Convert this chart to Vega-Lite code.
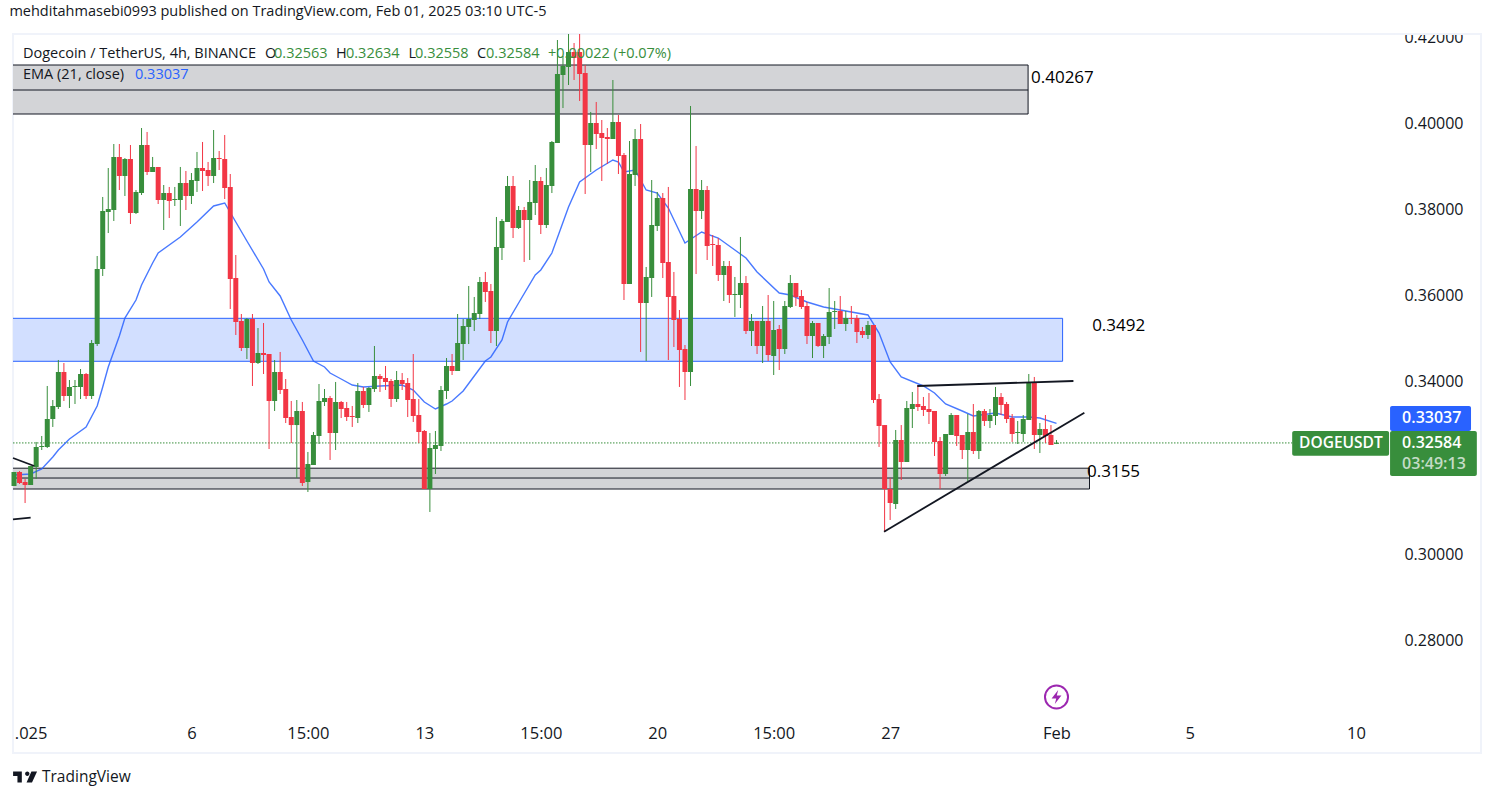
{
"$schema":"https://vega.github.io/schema/vega-lite/v6.json",
"width":1468,"height":719,
"autosize":{"type":"none"},
"padding":{"left":13,"top":34,"right":13,"bottom":45},
"background":"#ffffff",
"title":{"text":"mehditahmasebi0993 published on TradingView.com, Feb 01, 2025 03:10 UTC-5","anchor":"start","font":"Open Sans","fontSize":14.5,"fontWeight":"normal","color":"#131722","baseline":"bottom","offset":-13},
"config":{"view":{"stroke":"#f0f3fa","strokeWidth":2},"font":"Open Sans"},
"datasets":{
"candles":[
{"t":"2024-12-31T19:00","o":0.31585,"h":0.31910,"l":0.31585,"c":0.31910},
{"t":"2024-12-31T23:00","o":0.31910,"h":0.31933,"l":0.31631,"c":0.31654},
{"t":"2025-01-01T03:00","o":0.31678,"h":0.31747,"l":0.31190,"c":0.31608},
{"t":"2025-01-01T07:00","o":0.31608,"h":0.32049,"l":0.31608,"c":0.32049},
{"t":"2025-01-01T11:00","o":0.32026,"h":0.32606,"l":0.31747,"c":0.32490},
{"t":"2025-01-01T15:00","o":0.32490,"h":0.32745,"l":0.32420,"c":0.32513},
{"t":"2025-01-01T19:00","o":0.32490,"h":0.33905,"l":0.32466,"c":0.33139},
{"t":"2025-01-01T23:00","o":0.33139,"h":0.33580,"l":0.32954,"c":0.33441},
{"t":"2025-01-02T03:00","o":0.33418,"h":0.34508,"l":0.33371,"c":0.34230},
{"t":"2025-01-02T07:00","o":0.34230,"h":0.34438,"l":0.33557,"c":0.33673},
{"t":"2025-01-02T11:00","o":0.33673,"h":0.34044,"l":0.33394,"c":0.33882},
{"t":"2025-01-02T15:00","o":0.33882,"h":0.34044,"l":0.33487,"c":0.33905},
{"t":"2025-01-02T19:00","o":0.33882,"h":0.34299,"l":0.33603,"c":0.34183},
{"t":"2025-01-02T23:00","o":0.34183,"h":0.34206,"l":0.33603,"c":0.33673},
{"t":"2025-01-03T03:00","o":0.33673,"h":0.34972,"l":0.33603,"c":0.34902},
{"t":"2025-01-03T07:00","o":0.34879,"h":0.36921,"l":0.34833,"c":0.36619},
{"t":"2025-01-03T11:00","o":0.36619,"h":0.38290,"l":0.36457,"c":0.37965},
{"t":"2025-01-03T15:00","o":0.37942,"h":0.38962,"l":0.37454,"c":0.38011},
{"t":"2025-01-03T19:00","o":0.37988,"h":0.39519,"l":0.37733,"c":0.39218},
{"t":"2025-01-03T23:00","o":0.39218,"h":0.39519,"l":0.38452,"c":0.38777},
{"t":"2025-01-04T03:00","o":0.38777,"h":0.39194,"l":0.38313,"c":0.39171},
{"t":"2025-01-04T07:00","o":0.39171,"h":0.39496,"l":0.37663,"c":0.37918},
{"t":"2025-01-04T11:00","o":0.37918,"h":0.38452,"l":0.37895,"c":0.38406},
{"t":"2025-01-04T15:00","o":0.38382,"h":0.39890,"l":0.38336,"c":0.39496},
{"t":"2025-01-04T19:00","o":0.39496,"h":0.39798,"l":0.38800,"c":0.38870},
{"t":"2025-01-04T23:00","o":0.38870,"h":0.39218,"l":0.38870,"c":0.38986},
{"t":"2025-01-05T03:00","o":0.38986,"h":0.38986,"l":0.38127,"c":0.38220},
{"t":"2025-01-05T07:00","o":0.38220,"h":0.38568,"l":0.37524,"c":0.38382},
{"t":"2025-01-05T11:00","o":0.38382,"h":0.38522,"l":0.37802,"c":0.38197},
{"t":"2025-01-05T15:00","o":0.38220,"h":0.38522,"l":0.38081,"c":0.38243},
{"t":"2025-01-05T19:00","o":0.38220,"h":0.38986,"l":0.37617,"c":0.38614},
{"t":"2025-01-05T23:00","o":0.38614,"h":0.38893,"l":0.37988,"c":0.38313},
{"t":"2025-01-06T03:00","o":0.38313,"h":0.38846,"l":0.38127,"c":0.38684},
{"t":"2025-01-06T07:00","o":0.38661,"h":0.39334,"l":0.38406,"c":0.38962},
{"t":"2025-01-06T11:00","o":0.38962,"h":0.39566,"l":0.38429,"c":0.38893},
{"t":"2025-01-06T15:00","o":0.38916,"h":0.39102,"l":0.38545,"c":0.38777},
{"t":"2025-01-06T19:00","o":0.38777,"h":0.39844,"l":0.38614,"c":0.39194},
{"t":"2025-01-06T23:00","o":0.39194,"h":0.39357,"l":0.38916,"c":0.39171},
{"t":"2025-01-07T03:00","o":0.39171,"h":0.39728,"l":0.38243,"c":0.38498},
{"t":"2025-01-07T07:00","o":0.38522,"h":0.38823,"l":0.35691,"c":0.36387},
{"t":"2025-01-07T11:00","o":0.36410,"h":0.36944,"l":0.35088,"c":0.35390},
{"t":"2025-01-07T15:00","o":0.35413,"h":0.35575,"l":0.34717,"c":0.34786},
{"t":"2025-01-07T19:00","o":0.34786,"h":0.35482,"l":0.34531,"c":0.35459},
{"t":"2025-01-07T23:00","o":0.35459,"h":0.35575,"l":0.33905,"c":0.34438},
{"t":"2025-01-08T03:00","o":0.34438,"h":0.35250,"l":0.34415,"c":0.34670},
{"t":"2025-01-08T07:00","o":0.34670,"h":0.35366,"l":0.34183,"c":0.34624},
{"t":"2025-01-08T11:00","o":0.34647,"h":0.34647,"l":0.32443,"c":0.33557},
{"t":"2025-01-08T15:00","o":0.33557,"h":0.34508,"l":0.33325,"c":0.34230},
{"t":"2025-01-08T19:00","o":0.34230,"h":0.34694,"l":0.33719,"c":0.33812},
{"t":"2025-01-08T23:00","o":0.33835,"h":0.34067,"l":0.33046,"c":0.33162},
{"t":"2025-01-09T03:00","o":0.33185,"h":0.33557,"l":0.32582,"c":0.32999},
{"t":"2025-01-09T07:00","o":0.32999,"h":0.33580,"l":0.31770,"c":0.33325},
{"t":"2025-01-09T11:00","o":0.33325,"h":0.33534,"l":0.31585,"c":0.31654},
{"t":"2025-01-09T15:00","o":0.31678,"h":0.32374,"l":0.31446,"c":0.32095},
{"t":"2025-01-09T19:00","o":0.32072,"h":0.32838,"l":0.32072,"c":0.32768},
{"t":"2025-01-09T23:00","o":0.32745,"h":0.33951,"l":0.32559,"c":0.33557},
{"t":"2025-01-10T03:00","o":0.33534,"h":0.33835,"l":0.33441,"c":0.33626},
{"t":"2025-01-10T07:00","o":0.33626,"h":0.33673,"l":0.32188,"c":0.32814},
{"t":"2025-01-10T11:00","o":0.32814,"h":0.33998,"l":0.32420,"c":0.33534},
{"t":"2025-01-10T15:00","o":0.33534,"h":0.33557,"l":0.33162,"c":0.33371},
{"t":"2025-01-10T19:00","o":0.33394,"h":0.33534,"l":0.33093,"c":0.33185},
{"t":"2025-01-10T23:00","o":0.33209,"h":0.33441,"l":0.32954,"c":0.33185},
{"t":"2025-01-11T03:00","o":0.33162,"h":0.33974,"l":0.33046,"c":0.33789},
{"t":"2025-01-11T07:00","o":0.33789,"h":0.33882,"l":0.33394,"c":0.33464},
{"t":"2025-01-11T11:00","o":0.33464,"h":0.33882,"l":0.33302,"c":0.33858},
{"t":"2025-01-11T15:00","o":0.33835,"h":0.34833,"l":0.33766,"c":0.34137},
{"t":"2025-01-11T19:00","o":0.34137,"h":0.34183,"l":0.33766,"c":0.34067},
{"t":"2025-01-11T23:00","o":0.34090,"h":0.34369,"l":0.33812,"c":0.33998},
{"t":"2025-01-12T03:00","o":0.34021,"h":0.34067,"l":0.33418,"c":0.33603},
{"t":"2025-01-12T07:00","o":0.33603,"h":0.34253,"l":0.33534,"c":0.34044},
{"t":"2025-01-12T11:00","o":0.34044,"h":0.34206,"l":0.33812,"c":0.33951},
{"t":"2025-01-12T15:00","o":0.33974,"h":0.34090,"l":0.33185,"c":0.33580},
{"t":"2025-01-12T19:00","o":0.33603,"h":0.34647,"l":0.33070,"c":0.33209},
{"t":"2025-01-12T23:00","o":0.33232,"h":0.33603,"l":0.32582,"c":0.32838},
{"t":"2025-01-13T03:00","o":0.32861,"h":0.32884,"l":0.31515,"c":0.31515},
{"t":"2025-01-13T07:00","o":0.31515,"h":0.32814,"l":0.30982,"c":0.32466},
{"t":"2025-01-13T11:00","o":0.32443,"h":0.32861,"l":0.31863,"c":0.32536},
{"t":"2025-01-13T15:00","o":0.32513,"h":0.33905,"l":0.32397,"c":0.33812},
{"t":"2025-01-13T19:00","o":0.33789,"h":0.34554,"l":0.33603,"c":0.34369},
{"t":"2025-01-13T23:00","o":0.34369,"h":0.34647,"l":0.34160,"c":0.34253},
{"t":"2025-01-14T03:00","o":0.34253,"h":0.35575,"l":0.34253,"c":0.34902},
{"t":"2025-01-14T07:00","o":0.34879,"h":0.35459,"l":0.34508,"c":0.35297},
{"t":"2025-01-14T11:00","o":0.35274,"h":0.36225,"l":0.34879,"c":0.35459},
{"t":"2025-01-14T15:00","o":0.35436,"h":0.35970,"l":0.35181,"c":0.35598},
{"t":"2025-01-14T19:00","o":0.35575,"h":0.36434,"l":0.35459,"c":0.36318},
{"t":"2025-01-14T23:00","o":0.36318,"h":0.36550,"l":0.35854,"c":0.36086},
{"t":"2025-01-15T03:00","o":0.36109,"h":0.36271,"l":0.34902,"c":0.35181},
{"t":"2025-01-15T07:00","o":0.35181,"h":0.37826,"l":0.34833,"c":0.37130},
{"t":"2025-01-15T11:00","o":0.37106,"h":0.37779,"l":0.36828,"c":0.37733},
{"t":"2025-01-15T15:00","o":0.37710,"h":0.38777,"l":0.37710,"c":0.38545},
{"t":"2025-01-15T19:00","o":0.38545,"h":0.38777,"l":0.37338,"c":0.37570},
{"t":"2025-01-15T23:00","o":0.37570,"h":0.38081,"l":0.37547,"c":0.37988},
{"t":"2025-01-16T03:00","o":0.37988,"h":0.38058,"l":0.36782,"c":0.37756},
{"t":"2025-01-16T07:00","o":0.37756,"h":0.38684,"l":0.36828,"c":0.38174},
{"t":"2025-01-16T11:00","o":0.38150,"h":0.39032,"l":0.37872,"c":0.38661},
{"t":"2025-01-16T15:00","o":0.38661,"h":0.38754,"l":0.37431,"c":0.37640},
{"t":"2025-01-16T19:00","o":0.37640,"h":0.38962,"l":0.37570,"c":0.38568},
{"t":"2025-01-16T23:00","o":0.38545,"h":0.39589,"l":0.38382,"c":0.39566},
{"t":"2025-01-17T03:00","o":0.39542,"h":0.41932,"l":0.39542,"c":0.41143},
{"t":"2025-01-17T07:00","o":0.41120,"h":0.41561,"l":0.40354,"c":0.41329},
{"t":"2025-01-17T11:00","o":0.41306,"h":0.42071,"l":0.40888,"c":0.41654},
{"t":"2025-01-17T15:00","o":0.41654,"h":0.41862,"l":0.41004,"c":0.41514},
{"t":"2025-01-17T19:00","o":0.41654,"h":0.42071,"l":0.40517,"c":0.41143},
{"t":"2025-01-17T23:00","o":0.41166,"h":0.41352,"l":0.38359,"c":0.39496},
{"t":"2025-01-18T03:00","o":0.39496,"h":0.40262,"l":0.38870,"c":0.40006},
{"t":"2025-01-18T07:00","o":0.40006,"h":0.40494,"l":0.39403,"c":0.39751},
{"t":"2025-01-18T11:00","o":0.39774,"h":0.40076,"l":0.38661,"c":0.39658},
{"t":"2025-01-18T15:00","o":0.39682,"h":0.39890,"l":0.39055,"c":0.39635},
{"t":"2025-01-18T19:00","o":0.39635,"h":0.41004,"l":0.39635,"c":0.40030},
{"t":"2025-01-18T23:00","o":0.40030,"h":0.40192,"l":0.38823,"c":0.39241},
{"t":"2025-01-19T03:00","o":0.39264,"h":0.39310,"l":0.35900,"c":0.36271},
{"t":"2025-01-19T07:00","o":0.36271,"h":0.39589,"l":0.36271,"c":0.38823},
{"t":"2025-01-19T11:00","o":0.38800,"h":0.39867,"l":0.38545,"c":0.39635},
{"t":"2025-01-19T15:00","o":0.39635,"h":0.39983,"l":0.34694,"c":0.35830},
{"t":"2025-01-19T19:00","o":0.35830,"h":0.36666,"l":0.34485,"c":0.36434},
{"t":"2025-01-19T23:00","o":0.36410,"h":0.38684,"l":0.35970,"c":0.37640},
{"t":"2025-01-20T03:00","o":0.37617,"h":0.38406,"l":0.37501,"c":0.38266},
{"t":"2025-01-20T07:00","o":0.38266,"h":0.38382,"l":0.36410,"c":0.36758},
{"t":"2025-01-20T11:00","o":0.36782,"h":0.38522,"l":0.34508,"c":0.35970},
{"t":"2025-01-20T15:00","o":0.35993,"h":0.36550,"l":0.34810,"c":0.35436},
{"t":"2025-01-20T19:00","o":0.35459,"h":0.35668,"l":0.33882,"c":0.34740},
{"t":"2025-01-20T23:00","o":0.34763,"h":0.34856,"l":0.33580,"c":0.34230},
{"t":"2025-01-21T03:00","o":0.34230,"h":0.40401,"l":0.33905,"c":0.38475},
{"t":"2025-01-21T07:00","o":0.38475,"h":0.39473,"l":0.36503,"c":0.37965},
{"t":"2025-01-21T11:00","o":0.37965,"h":0.38684,"l":0.37779,"c":0.38452},
{"t":"2025-01-21T15:00","o":0.38452,"h":0.38545,"l":0.36828,"c":0.37153},
{"t":"2025-01-21T19:00","o":0.37199,"h":0.37408,"l":0.36689,"c":0.37176},
{"t":"2025-01-21T23:00","o":0.37176,"h":0.37338,"l":0.36341,"c":0.36480},
{"t":"2025-01-22T03:00","o":0.36480,"h":0.36805,"l":0.35877,"c":0.36689},
{"t":"2025-01-22T07:00","o":0.36689,"h":0.36805,"l":0.35830,"c":0.36016},
{"t":"2025-01-22T11:00","o":0.36016,"h":0.36434,"l":0.35506,"c":0.36039},
{"t":"2025-01-22T15:00","o":0.36016,"h":0.37362,"l":0.35714,"c":0.36294},
{"t":"2025-01-22T19:00","o":0.36294,"h":0.36457,"l":0.35111,"c":0.35181},
{"t":"2025-01-22T23:00","o":0.35181,"h":0.35575,"l":0.34833,"c":0.35413},
{"t":"2025-01-23T03:00","o":0.35413,"h":0.35413,"l":0.34647,"c":0.34833},
{"t":"2025-01-23T07:00","o":0.34833,"h":0.35761,"l":0.34438,"c":0.35413},
{"t":"2025-01-23T11:00","o":0.35413,"h":0.36016,"l":0.34485,"c":0.34624},
{"t":"2025-01-23T15:00","o":0.34601,"h":0.35877,"l":0.34160,"c":0.35204},
{"t":"2025-01-23T19:00","o":0.35227,"h":0.35320,"l":0.34276,"c":0.34763},
{"t":"2025-01-23T23:00","o":0.34763,"h":0.35877,"l":0.34647,"c":0.35761},
{"t":"2025-01-24T03:00","o":0.35738,"h":0.36480,"l":0.35714,"c":0.36294},
{"t":"2025-01-24T07:00","o":0.36294,"h":0.36294,"l":0.35761,"c":0.35970},
{"t":"2025-01-24T11:00","o":0.35993,"h":0.36132,"l":0.35691,"c":0.35738},
{"t":"2025-01-24T15:00","o":0.35761,"h":0.35854,"l":0.34879,"c":0.35065},
{"t":"2025-01-24T19:00","o":0.35065,"h":0.35413,"l":0.34554,"c":0.35366},
{"t":"2025-01-24T23:00","o":0.35366,"h":0.35366,"l":0.34810,"c":0.34833},
{"t":"2025-01-25T03:00","o":0.34833,"h":0.35111,"l":0.34554,"c":0.35065},
{"t":"2025-01-25T07:00","o":0.35042,"h":0.36178,"l":0.34879,"c":0.35622},
{"t":"2025-01-25T11:00","o":0.35622,"h":0.35877,"l":0.35227,"c":0.35645},
{"t":"2025-01-25T15:00","o":0.35645,"h":0.35993,"l":0.35343,"c":0.35343},
{"t":"2025-01-25T19:00","o":0.35343,"h":0.35645,"l":0.35181,"c":0.35482},
{"t":"2025-01-25T23:00","o":0.35482,"h":0.35761,"l":0.35343,"c":0.35459},
{"t":"2025-01-26T03:00","o":0.35482,"h":0.35552,"l":0.34902,"c":0.35158},
{"t":"2025-01-26T07:00","o":0.35181,"h":0.35274,"l":0.35018,"c":0.35088},
{"t":"2025-01-26T11:00","o":0.35088,"h":0.35413,"l":0.34995,"c":0.35320},
{"t":"2025-01-26T15:00","o":0.35320,"h":0.35320,"l":0.33510,"c":0.33580},
{"t":"2025-01-26T19:00","o":0.33603,"h":0.33719,"l":0.32490,"c":0.32977},
{"t":"2025-01-26T23:00","o":0.32999,"h":0.32999,"l":0.30518,"c":0.31515},
{"t":"2025-01-27T03:00","o":0.31515,"h":0.31770,"l":0.30796,"c":0.31190},
{"t":"2025-01-27T07:00","o":0.31167,"h":0.32884,"l":0.31051,"c":0.32652},
{"t":"2025-01-27T11:00","o":0.32652,"h":0.32999,"l":0.31724,"c":0.32142},
{"t":"2025-01-27T15:00","o":0.32142,"h":0.33557,"l":0.32142,"c":0.33394},
{"t":"2025-01-27T19:00","o":0.33371,"h":0.33766,"l":0.32930,"c":0.33487},
{"t":"2025-01-27T23:00","o":0.33487,"h":0.33928,"l":0.33325,"c":0.33418},
{"t":"2025-01-28T03:00","o":0.33441,"h":0.33650,"l":0.33209,"c":0.33348},
{"t":"2025-01-28T07:00","o":0.33371,"h":0.33742,"l":0.33023,"c":0.33302},
{"t":"2025-01-28T11:00","o":0.33325,"h":0.33325,"l":0.32281,"c":0.32606},
{"t":"2025-01-28T15:00","o":0.32629,"h":0.32722,"l":0.31515,"c":0.31863},
{"t":"2025-01-28T19:00","o":0.31863,"h":0.32791,"l":0.31817,"c":0.32791},
{"t":"2025-01-28T23:00","o":0.32768,"h":0.33278,"l":0.32768,"c":0.33232},
{"t":"2025-01-29T03:00","o":0.33232,"h":0.33232,"l":0.32513,"c":0.32745},
{"t":"2025-01-29T07:00","o":0.32768,"h":0.32768,"l":0.32211,"c":0.32420},
{"t":"2025-01-29T11:00","o":0.32420,"h":0.33255,"l":0.31701,"c":0.32838},
{"t":"2025-01-29T15:00","o":0.32838,"h":0.33487,"l":0.32327,"c":0.32397},
{"t":"2025-01-29T19:00","o":0.32397,"h":0.33348,"l":0.32211,"c":0.33325},
{"t":"2025-01-29T23:00","o":0.33325,"h":0.33371,"l":0.32977,"c":0.33093},
{"t":"2025-01-30T03:00","o":0.33093,"h":0.33371,"l":0.32930,"c":0.33232},
{"t":"2025-01-30T07:00","o":0.33209,"h":0.33882,"l":0.32999,"c":0.33650},
{"t":"2025-01-30T11:00","o":0.33650,"h":0.33742,"l":0.33232,"c":0.33464},
{"t":"2025-01-30T15:00","o":0.33487,"h":0.33534,"l":0.33046,"c":0.33139},
{"t":"2025-01-30T19:00","o":0.33162,"h":0.33255,"l":0.32606,"c":0.32791},
{"t":"2025-01-30T23:00","o":0.32814,"h":0.33093,"l":0.32559,"c":0.32838},
{"t":"2025-01-31T03:00","o":0.32791,"h":0.33232,"l":0.32606,"c":0.33139},
{"t":"2025-01-31T07:00","o":0.33116,"h":0.34183,"l":0.33116,"c":0.33974},
{"t":"2025-01-31T11:00","o":0.33974,"h":0.34114,"l":0.32443,"c":0.32768},
{"t":"2025-01-31T15:00","o":0.32768,"h":0.33046,"l":0.32350,"c":0.32907},
{"t":"2025-01-31T19:00","o":0.32907,"h":0.33232,"l":0.32582,"c":0.32745},
{"t":"2025-01-31T23:00","o":0.32768,"h":0.32999,"l":0.32536,"c":0.32536},
{"t":"2025-02-01T03:00","o":0.32563,"h":0.32652,"l":0.32558,"c":0.32584}
],
"ema":[
{"t":"2024-12-31T19:00","v":0.31840},{"t":"2025-01-01T07:00","v":0.31863},{"t":"2025-01-01T15:00","v":0.31979},{"t":"2025-01-01T23:00","v":0.32258},{"t":"2025-01-02T03:00","v":0.32420},{"t":"2025-01-02T11:00","v":0.32675},{"t":"2025-01-02T23:00","v":0.32954},{"t":"2025-01-03T07:00","v":0.33441},{"t":"2025-01-03T11:00","v":0.33882},{"t":"2025-01-03T15:00","v":0.34346},{"t":"2025-01-03T23:00","v":0.35065},{"t":"2025-01-04T03:00","v":0.35482},{"t":"2025-01-04T11:00","v":0.35900},{"t":"2025-01-04T15:00","v":0.36248},{"t":"2025-01-04T23:00","v":0.36758},{"t":"2025-01-05T03:00","v":0.36990},{"t":"2025-01-05T19:00","v":0.37362},{"t":"2025-01-06T07:00","v":0.37710},{"t":"2025-01-06T19:00","v":0.38081},{"t":"2025-01-07T03:00","v":0.38150},{"t":"2025-01-07T11:00","v":0.37710},{"t":"2025-01-07T19:00","v":0.37269},{"t":"2025-01-08T07:00","v":0.36619},{"t":"2025-01-08T11:00","v":0.36318},{"t":"2025-01-08T19:00","v":0.35993},{"t":"2025-01-09T03:00","v":0.35436},{"t":"2025-01-09T11:00","v":0.34972},{"t":"2025-01-09T19:00","v":0.34485},{"t":"2025-01-10T03:00","v":0.34346},{"t":"2025-01-10T07:00","v":0.34206},{"t":"2025-01-10T15:00","v":0.34067},{"t":"2025-01-10T23:00","v":0.33928},{"t":"2025-01-11T07:00","v":0.33882},{"t":"2025-01-11T19:00","v":0.33905},{"t":"2025-01-12T11:00","v":0.33928},{"t":"2025-01-12T19:00","v":0.33812},{"t":"2025-01-13T03:00","v":0.33534},{"t":"2025-01-13T11:00","v":0.33371},{"t":"2025-01-13T19:00","v":0.33487},{"t":"2025-01-13T23:00","v":0.33557},{"t":"2025-01-14T07:00","v":0.33789},{"t":"2025-01-14T15:00","v":0.34137},{"t":"2025-01-14T23:00","v":0.34485},{"t":"2025-01-15T03:00","v":0.34578},{"t":"2025-01-15T11:00","v":0.34972},{"t":"2025-01-15T15:00","v":0.35390},{"t":"2025-01-15T23:00","v":0.35830},{"t":"2025-01-16T11:00","v":0.36480},{"t":"2025-01-16T15:00","v":0.36596},{"t":"2025-01-16T23:00","v":0.36990},{"t":"2025-01-17T11:00","v":0.38058},{"t":"2025-01-17T19:00","v":0.38638},{"t":"2025-01-18T07:00","v":0.38916},{"t":"2025-01-18T19:00","v":0.39148},{"t":"2025-01-18T23:00","v":0.39102},{"t":"2025-01-19T03:00","v":0.38870},{"t":"2025-01-19T11:00","v":0.38916},{"t":"2025-01-19T19:00","v":0.38452},{"t":"2025-01-20T03:00","v":0.38382},{"t":"2025-01-20T11:00","v":0.38034},{"t":"2025-01-20T23:00","v":0.37222},{"t":"2025-01-21T11:00","v":0.37478},{"t":"2025-01-21T23:00","v":0.37338},{"t":"2025-01-22T11:00","v":0.37060},{"t":"2025-01-22T19:00","v":0.36874},{"t":"2025-01-23T03:00","v":0.36550},{"t":"2025-01-23T19:00","v":0.36062},{"t":"2025-01-24T03:00","v":0.36016},{"t":"2025-01-24T15:00","v":0.35854},{"t":"2025-01-25T03:00","v":0.35738},{"t":"2025-01-26T11:00","v":0.35552},{"t":"2025-01-26T19:00","v":0.35134},{"t":"2025-01-27T03:00","v":0.34462},{"t":"2025-01-27T11:00","v":0.34114},{"t":"2025-01-28T03:00","v":0.33905},{"t":"2025-01-28T11:00","v":0.33742},{"t":"2025-01-28T19:00","v":0.33487},{"t":"2025-01-29T07:00","v":0.33325},{"t":"2025-01-29T15:00","v":0.33209},{"t":"2025-01-30T07:00","v":0.33278},{"t":"2025-01-30T19:00","v":0.33185},{"t":"2025-01-31T07:00","v":0.33185},{"t":"2025-01-31T15:00","v":0.33162},{"t":"2025-02-01T03:00","v":0.33037}
],
"zones":[
{"kind":"zoneGray","from":"2024-12-30T00:00","to":"2025-01-31T06:30","top":0.41352,"bottom":0.40215,"mid":0.40772},
{"kind":"zoneBlue","from":"2024-12-30T00:00","to":"2025-02-01T07:24","top":0.35475,"bottom":0.34478},
{"kind":"zoneGray","from":"2024-12-30T00:00","to":"2025-02-02T02:48","top":0.31998,"bottom":0.31515,"mid":0.31770}
],
"trends":[
{"id":"top","t":"2025-01-27T22:36","p":0.33905},{"id":"top","t":"2025-02-01T15:12","p":0.34021},
{"id":"rise","t":"2025-01-26T22:36","p":0.30524},{"id":"rise","t":"2025-02-01T23:06","p":0.33285},
{"id":"oldA","t":"2024-12-31T18:17","p":0.32234},{"id":"oldA","t":"2025-01-01T09:38","p":0.32049},
{"id":"oldB","t":"2024-12-31T18:17","p":0.30812},{"id":"oldB","t":"2025-01-01T07:00","p":0.30849}
],
"header":[
{"t":"2025-01-01T01:30","p":0.41607,"label":"Dogecoin / TetherUS, 4h, BINANCE","tone":"ink"},
{"t":"2025-01-08T08:05","p":0.41607,"label":"O","tone":"ink"},
{"t":"2025-01-08T14:36","p":0.41607,"label":"0.32563","tone":"up"},
{"t":"2025-01-10T11:18","p":0.41607,"label":"H","tone":"ink"},
{"t":"2025-01-10T18:30","p":0.41607,"label":"0.32634","tone":"up"},
{"t":"2025-01-12T15:36","p":0.41607,"label":"L","tone":"ink"},
{"t":"2025-01-12T20:18","p":0.41607,"label":"0.32558","tone":"up"},
{"t":"2025-01-14T17:00","p":0.41607,"label":"C","tone":"ink"},
{"t":"2025-01-14T23:30","p":0.41607,"label":"0.32584","tone":"up"},
{"t":"2025-01-16T20:12","p":0.41607,"label":"+0.00022 (+0.07%)","tone":"up"},
{"t":"2025-01-01T01:30","p":0.41120,"label":"EMA (21, close)","tone":"ink"},
{"t":"2025-01-04T10:18","p":0.41120,"label":"0.33037","tone":"ema"}
],
"levels":[
{"t":"2025-01-31T08:36","p":0.41050,"label":"0.40267"},
{"t":"2025-02-02T04:42","p":0.35297,"label":"0.3492"},
{"t":"2025-02-02T01:00","p":0.31910,"label":"0.3155"}
],
"pills":[
{"kind":"pillGreen","from":"2025-02-08T05:00","to":"2025-02-11T02:54","top":0.32861,"bottom":0.32288},
{"kind":"pillBlue","from":"2025-02-11T03:36","to":"2025-02-13T14:00","top":0.33441,"bottom":0.32861},
{"kind":"pillGreen","from":"2025-02-11T03:36","to":"2025-02-13T18:12","top":0.32861,"bottom":0.31817}
],
"pillName":[
{"t":"2025-02-08T10:00","p":0.32582,"label":"DOGEUSDT","tone":"white"}
],
"pillText":[
{"t":"2025-02-11T12:18","p":0.33162,"label":"0.33037","tone":"white"},
{"t":"2025-02-11T12:18","p":0.32582,"label":"0.32584","tone":"white"},
{"t":"2025-02-11T12:18","p":0.32100,"label":"03:49:13","tone":"pale"}
],
"mask":[
{"kind":"paper","from":"2025-02-11T07:00","to":"2025-02-13T17:00","top":0.42396,"bottom":0.42094},
{"kind":"frame","from":"2025-02-11T07:00","to":"2025-02-13T17:00","top":0.42094,"bottom":0.42048}
]
},
"layer":[
{"data":{"name":"zones"},"mark":{"type":"rect","clip":true,"strokeWidth":1},
 "encoding":{
  "x":{"field":"from","type":"temporal","scale":{"nice":false,"padding":0,"domain":[{"year":2024,"month":12,"date":31,"hours":18,"minutes":17},{"year":2025,"month":2,"date":13,"hours":21,"minutes":12}]},"axis":{"title":null,"domain":false,"ticks":false,"grid":false,"labelPadding":-20,"labelBaseline":"middle","labelFontSize":16.5,"labelFontWeight":500,"labelColor":"#131722","labelFont":"Open Sans","labelOverlap":false,"labelFlush":false,"labelBound":false,
   "values":[{"year":2025,"month":1,"date":1,"hours":7},{"year":2025,"month":1,"date":6,"hours":3},{"year":2025,"month":1,"date":9,"hours":15},{"year":2025,"month":1,"date":13,"hours":3},{"year":2025,"month":1,"date":16,"hours":15},{"year":2025,"month":1,"date":20,"hours":3},{"year":2025,"month":1,"date":23,"hours":15},{"year":2025,"month":1,"date":27,"hours":3},{"year":2025,"month":2,"date":1,"hours":3},{"year":2025,"month":2,"date":5,"hours":3},{"year":2025,"month":2,"date":10,"hours":3}],
   "labelExpr":"hours(datum.value)==15?'15:00':hours(datum.value)==7?'.025':(month(datum.value)==1&&date(datum.value)==1)?'Feb':''+date(datum.value)"}},
  "x2":{"field":"to"},
  "y":{"field":"top","type":"quantitative","scale":{"domain":[0.253904,0.420712],"nice":false,"zero":false},"axis":{"title":null,"orient":"right","domain":false,"ticks":false,"grid":false,"values":[0.28,0.30,0.34,0.36,0.38,0.40,0.42],"format":".5f","labelAlign":"right","labelPadding":-18,"labelFontSize":16,"labelFontWeight":500,"labelColor":"#131722","labelFont":"Open Sans"}},
  "y2":{"field":"bottom"},
  "fill":{"field":"kind","type":"nominal","scale":{"domain":["zoneGray","zoneBlue","pillGreen","pillBlue","paper","frame"],"range":["#d3d4d7","#d2dfff","#388e3c","#2962ff","#ffffff","#f0f3fa"]},"legend":null},
  "stroke":{"field":"kind","type":"nominal","scale":{"domain":["zoneGray","zoneBlue"],"range":["#131722","#2962ff"]},"legend":null}
 }},
{"data":{"name":"zones"},"transform":[{"filter":"isValid(datum.mid)"}],"mark":{"type":"rule","clip":true,"color":"#131722","strokeWidth":1},
 "encoding":{"x":{"field":"from","type":"temporal"},"x2":{"field":"to"},"y":{"field":"mid","type":"quantitative"}}},
{"data":{"values":[{"p":0.32584,"from":"2024-12-31T18:17","to":"2025-02-08T05:00"}]},"mark":{"type":"rule","color":"#388e3c","strokeWidth":1,"strokeDash":[1.5,1.5]},
 "encoding":{"x":{"field":"from","type":"temporal"},"x2":{"field":"to"},"y":{"field":"p","type":"quantitative"}}},
{"data":{"name":"ema"},"mark":{"type":"line","color":"#2962ff","strokeWidth":1.4,"opacity":0.85,"interpolate":"linear"},
 "encoding":{"x":{"field":"t","type":"temporal"},"y":{"field":"v","type":"quantitative"}}},
{"data":{"name":"candles"},"mark":{"type":"rule","strokeWidth":1},
 "encoding":{"x":{"field":"t","type":"temporal"},"y":{"field":"l","type":"quantitative"},"y2":{"field":"h"},
  "color":{"condition":{"test":"datum.c>=datum.o","value":"#388e3c"},"value":"#f23645"}}},
{"data":{"name":"candles"},"mark":{"type":"bar","width":5},
 "encoding":{"x":{"field":"t","type":"temporal"},"y":{"field":"o","type":"quantitative"},"y2":{"field":"c"},
  "color":{"condition":{"test":"datum.c>=datum.o","value":"#388e3c"},"value":"#f23645"}}},
{"data":{"name":"trends"},"mark":{"type":"line","color":"#131722","strokeWidth":1.8},
 "encoding":{"x":{"field":"t","type":"temporal"},"y":{"field":"p","type":"quantitative"},"detail":{"field":"id"}}},
{"data":{"name":"pills"},"mark":{"type":"rect","cornerRadius":2},
 "encoding":{"x":{"field":"from","type":"temporal"},"x2":{"field":"to"},"y":{"field":"top","type":"quantitative"},"y2":{"field":"bottom"},
  "fill":{"field":"kind","type":"nominal"}}},
{"data":{"name":"mask"},"mark":{"type":"rect"},
 "encoding":{"x":{"field":"from","type":"temporal"},"x2":{"field":"to"},"y":{"field":"top","type":"quantitative"},"y2":{"field":"bottom"},
  "fill":{"field":"kind","type":"nominal"}}},
{"data":{"name":"header"},"mark":{"type":"text","align":"left","baseline":"middle","fontSize":14.5},
 "encoding":{"x":{"field":"t","type":"temporal"},"y":{"field":"p","type":"quantitative"},"text":{"field":"label"},
  "color":{"field":"tone","type":"nominal","scale":{"domain":["ink","up","ema","white","pale"],"range":["#131722","#388e3c","#2962ff","#ffffff","#c4dcc6"]},"legend":null}}},
{"data":{"name":"levels"},"mark":{"type":"text","align":"left","baseline":"middle","fontSize":17,"color":"#000000"},
 "encoding":{"x":{"field":"t","type":"temporal"},"y":{"field":"p","type":"quantitative"},"text":{"field":"label"}}},
{"data":{"name":"pillName"},"mark":{"type":"text","align":"left","baseline":"middle","fontSize":15.5,"fontWeight":600},
 "encoding":{"x":{"field":"t","type":"temporal"},"y":{"field":"p","type":"quantitative"},"text":{"field":"label"},
  "color":{"field":"tone","type":"nominal"}}},
{"data":{"name":"pillText"},"mark":{"type":"text","align":"left","baseline":"middle","fontSize":16,"fontWeight":600},
 "encoding":{"x":{"field":"t","type":"temporal"},"y":{"field":"p","type":"quantitative"},"text":{"field":"label"},
  "color":{"field":"tone","type":"nominal"}}},
{"data":{"values":[{"t":"2025-02-01T03:00","p":0.26690}]},"mark":{"type":"point","filled":false,"size":531,"color":"#9c27b0","strokeWidth":2,"opacity":1},
 "encoding":{"x":{"field":"t","type":"temporal"},"y":{"field":"p","type":"quantitative"}}},
{"data":{"values":[{"t":"2025-02-01T03:00","p":0.26690}]},"mark":{"type":"point","filled":true,"size":784,"color":"#9c27b0","opacity":1,"shape":"M.12 -.5L-.35 .1H-.02L-.12 .5L.35 -.1H.02Z"},
 "encoding":{"x":{"field":"t","type":"temporal"},"y":{"field":"p","type":"quantitative"}}},
{"data":{"values":[{"t":"2025-01-01T03:00","p":0.24834}]},"mark":{"type":"point","filled":true,"size":2304,"color":"#131722","opacity":1,"shape":"M-.136 -.227H-.5V-.045H-.318V.227H-.136ZM.288 .227H.061L.264 -.227H.5ZM0 -.136A.091 .091 0 1 0 .182 -.136A.091 .091 0 1 0 0 -.136Z"},
 "encoding":{"x":{"field":"t","type":"temporal"},"y":{"field":"p","type":"quantitative"}}},
{"data":{"values":[{"t":"2025-01-01T15:12","p":0.24834,"label":"TradingView"}]},"mark":{"type":"text","align":"left","baseline":"middle","fontSize":15.5,"color":"#131722"},
 "encoding":{"x":{"field":"t","type":"temporal"},"y":{"field":"p","type":"quantitative"},"text":{"field":"label"}}}
]
}
